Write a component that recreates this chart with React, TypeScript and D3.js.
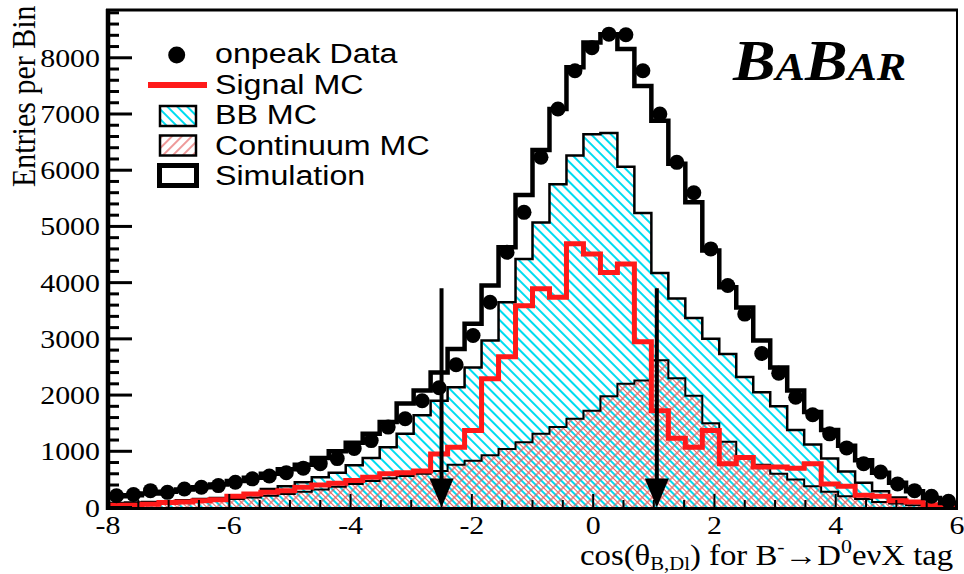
import React from 'react';
import * as d3 from 'd3';

// ---- data (50 bins from -8 to 6) ----
const X_MIN = -8;
const X_MAX = 6;
const BIN_W = 0.28;
const N_BINS = 50;

const dataValues = [210,230,300,270,330,360,390,450,510,560,620,700,780,870,1050,1190,1430,1580,1900,2130,2540,3060,3650,4540,5250,6230,7090,7770,8180,8420,8410,7770,7000,6140,5600,4600,3950,3440,2740,2390,1960,1650,1310,1060,780,630,420,300,200,110];
const simValues = [200,220,250,280,320,360,410,470,530,600,680,760,880,1000,1150,1310,1520,1850,2080,2400,2820,3270,3950,4630,5560,6360,7090,7830,8270,8420,8155,7500,6880,6115,5430,4570,3920,3560,2970,2490,2080,1700,1380,1100,840,620,440,290,170,80];
const bbValues = [80,90,100,110,130,150,170,200,240,330,380,450,540,620,750,880,1070,1310,1640,1900,2140,2490,2970,3650,4420,5070,5750,6260,6640,6660,6060,5240,4170,3720,3370,3000,2730,2320,2050,1800,1380,1120,870,640,440,290,180,100,50,20];
const contValues = [50,60,70,80,90,110,130,150,180,210,240,280,320,370,420,470,520,560,600,650,760,830,930,1040,1160,1310,1430,1580,1720,1980,2200,2260,2620,2300,1990,1500,1170,900,760,600,500,380,280,200,150,100,70,40,20,10];
const signalValues = [40,40,60,90,100,120,140,200,240,270,300,360,400,430,480,540,600,620,650,950,1070,1370,2290,2680,3590,3890,3740,4690,4510,4180,4330,2950,1720,1230,1070,1370,780,890,720,720,700,780,420,380,220,200,120,100,50,20];

const arrowXs = [-2.5, 1.05];
const arrowTopValue = 3900;

const yTickLabels = [0, 1000, 2000, 3000, 4000, 5000, 6000, 7000, 8000];
const xTickLabels = [-8, -6, -4, -2, 0, 2, 4, 6];

const legendLabels = ['onpeak Data', 'Signal MC', 'BB MC', 'Continuum MC', 'Simulation'];

const W = 964;
const H = 574;
const SX = 1.15;
const SERIF = '"Liberation Serif", "Times New Roman", serif';
const SANS = '"Liberation Sans", Arial, sans-serif';

const x = d3.scaleLinear().domain([X_MIN, X_MAX]).range([108, 957]);
const y = d3.scaleLinear().domain([0, 8850]).range([507.5, 10]);

const edges = d3.range(N_BINS + 1).map((i) => X_MIN + i * BIN_W);

function outlinePoints(vals: number[]): [number, number][] {
  const pts: [number, number][] = [[edges[0], 0]];
  vals.forEach((v, i) => pts.push([edges[i], v]));
  pts.push([edges[N_BINS], vals[N_BINS - 1]]);
  pts.push([edges[N_BINS], 0]);
  return pts;
}

const lineGen = d3
  .line<[number, number]>()
  .x((d) => x(d[0]))
  .y((d) => y(d[1]))
  .curve(d3.curveStepAfter);

const areaGen = d3
  .area<[number, number]>()
  .x((d) => x(d[0]))
  .y0(y(0))
  .y1((d) => y(d[1]))
  .curve(d3.curveStepAfter);

function STxt(props: {
  x: number; y: number; size: number; anchor?: string; family?: string; children: any;
}) {
  const { x: tx, y: ty, size, anchor = 'start', family = SERIF, children } = props;
  return (
    <g transform={`translate(${tx},${ty}) scale(${SX},1)`}>
      <text x={0} y={0} fontSize={size} textAnchor={anchor as any} fontFamily={family} fill="#000">
        {children}
      </text>
    </g>
  );
}

export default function App() {
  const y0 = y(0);
  const yMinor = d3.range(0, 8801, 200);
  const xMinor = d3.range(X_MIN, X_MAX + 0.001, 0.5);

  const legendY = [55, 85, 116, 145.5, 175.5];
  const legendBase = [63, 93.5, 123.5, 155, 185];

  return (
    <svg
      width={W}
      height={H}
      viewBox={`0 0 ${W} ${H}`}
      style={{ position: 'absolute', left: 0, top: 0, background: '#fff' }}
    >
      <defs>
        <pattern id="cyanHatch" patternUnits="userSpaceOnUse" width={7} height={7} patternTransform="rotate(-45)">
          <line x1={1} y1={-1} x2={1} y2={8} stroke="#00dcf0" strokeWidth={2} />
        </pattern>
        <pattern id="redHatch" patternUnits="userSpaceOnUse" width={7} height={7} patternTransform="rotate(45)">
          <line x1={1} y1={-1} x2={1} y2={8} stroke="#e25555" strokeWidth={1.2} />
        </pattern>
        <pattern id="redHatch2" patternUnits="userSpaceOnUse" width={7} height={7} patternTransform="rotate(-45)">
          <line x1={4.5} y1={-1} x2={4.5} y2={8} stroke="#e26a6a" strokeWidth={1} />
        </pattern>
        <clipPath id="plotClip">
          <rect x={108} y={10} width={849} height={498} />
        </clipPath>
      </defs>

      <rect x={0} y={0} width={W} height={H} fill="#fff" />

      <g clipPath="url(#plotClip)">
        {/* BB MC cyan hatched */}
        <path d={areaGen(outlinePoints(bbValues)) || ''} fill="url(#cyanHatch)" stroke="none" />
        {/* Continuum MC red cross hatched */}
        <path d={areaGen(outlinePoints(contValues)) || ''} fill="url(#redHatch)" stroke="none" />
        <path d={areaGen(outlinePoints(contValues)) || ''} fill="url(#redHatch2)" stroke="none" />
        {/* outlines */}
        <path d={lineGen(outlinePoints(bbValues)) || ''} fill="none" stroke="#000" strokeWidth={2.5} />
        <path d={lineGen(outlinePoints(contValues)) || ''} fill="none" stroke="#000" strokeWidth={2} />
        {/* Signal MC */}
        <path d={lineGen(outlinePoints(signalValues)) || ''} fill="none" stroke="#ff1a1a" strokeWidth={5} />
        {/* Simulation */}
        <path d={lineGen(outlinePoints(simValues)) || ''} fill="none" stroke="#000" strokeWidth={4.5} />
        {/* data points */}
        {dataValues.map((v, i) => (
          <circle key={i} cx={x(edges[i] + BIN_W / 2)} cy={y(v)} r={7.5} fill="#000" />
        ))}
        {/* arrows */}
        {arrowXs.map((ax, i) => {
          const px = x(ax);
          const top = y(arrowTopValue);
          return (
            <g key={i}>
              <line x1={px} y1={top} x2={px} y2={y0 - 20} stroke="#000" strokeWidth={4} />
              <path d={`M${px - 12},${y0 - 29} L${px + 12},${y0 - 29} L${px},${y0} Z`} fill="#000" />
            </g>
          );
        })}
      </g>

      {/* frame */}
      <line x1={106} y1={10} x2={958} y2={10} stroke="#000" strokeWidth={3} />
      <line x1={957} y1={9} x2={957} y2={509} stroke="#000" strokeWidth={2} />
      <line x1={106} y1={508.5} x2={958} y2={508.5} stroke="#000" strokeWidth={3} />
      <line x1={108} y1={9} x2={108} y2={510} stroke="#000" strokeWidth={4.5} />

      {/* y ticks */}
      {yMinor.map((v) => {
        const major = v % 1000 === 0;
        return (
          <line key={v} x1={108} x2={108 + (major ? 24 : 11)} y1={y(v)} y2={y(v)} stroke="#000" strokeWidth={3} />
        );
      })}
      {yTickLabels.map((v) => (
        <STxt key={v} x={100} y={y(v) + 9} size={26} anchor="end">
          {String(v)}
        </STxt>
      ))}

      {/* x ticks */}
      {xMinor.map((v) => {
        const major = Math.abs(v / 2 - Math.round(v / 2)) < 1e-6;
        return (
          <line key={v} x1={x(v)} x2={x(v)} y1={507} y2={507 - (major ? 13 : 7)} stroke="#000" strokeWidth={2} />
        );
      })}
      {xTickLabels.map((v) => (
        <STxt key={v} x={x(v)} y={534} size={26} anchor="middle">
          {String(v)}
        </STxt>
      ))}

      {/* axis titles */}
      <g transform={`translate(35,187) scale(${SX},1) rotate(-90)`}>
        <text x={0} y={0} fontSize={30} fontFamily={SERIF} fill="#000">Entries per Bin</text>
      </g>
      <g transform={`translate(580,565) scale(${SX},1)`}>
        <text x={0} y={0} fontSize={28.5} fontFamily={SERIF} fill="#000">
          cos(θ<tspan fontSize={18} dy={5}>B,Dl</tspan>
          <tspan dy={-5}>) for B</tspan>
          <tspan fontSize={19} dy={-12}>-</tspan>
          <tspan dy={12}>→D</tspan>
          <tspan fontSize={19} dy={-12}>0</tspan>
          <tspan dy={12}>eνX tag</tspan>
        </text>
      </g>

      {/* BABAR logo */}
      <g transform={`translate(733,80) scale(1.1,1)`}>
        <text x={0} y={0} fontFamily={SERIF} fontStyle="italic" fontWeight="bold" fill="#000">
          <tspan fontSize={58}>B</tspan>
          <tspan fontSize={40}>A</tspan>
          <tspan fontSize={58}>B</tspan>
          <tspan fontSize={40}>AR</tspan>
        </text>
      </g>

      {/* legend */}
      <g>
        <circle cx={176.7} cy={legendY[0]} r={8.5} fill="#000" />
        <line x1={148} x2={207} y1={legendY[1]} y2={legendY[1]} stroke="#ff1a1a" strokeWidth={6} />
        <rect x={160} y={106} width={36} height={20} fill="url(#cyanHatch)" stroke="#000" strokeWidth={2.5} />
        <rect x={160} y={135.5} width={36} height={20} fill="url(#redHatch)" stroke="#000" strokeWidth={2.5} />
        <rect x={159.5} y={165.5} width={37} height={20} fill="#fff" stroke="#000" strokeWidth={5} />
        {legendLabels.map((l, i) => (
          <STxt key={l} x={215} y={legendBase[i]} size={28} family={SANS}>
            {l}
          </STxt>
        ))}
      </g>
    </svg>
  );
}
